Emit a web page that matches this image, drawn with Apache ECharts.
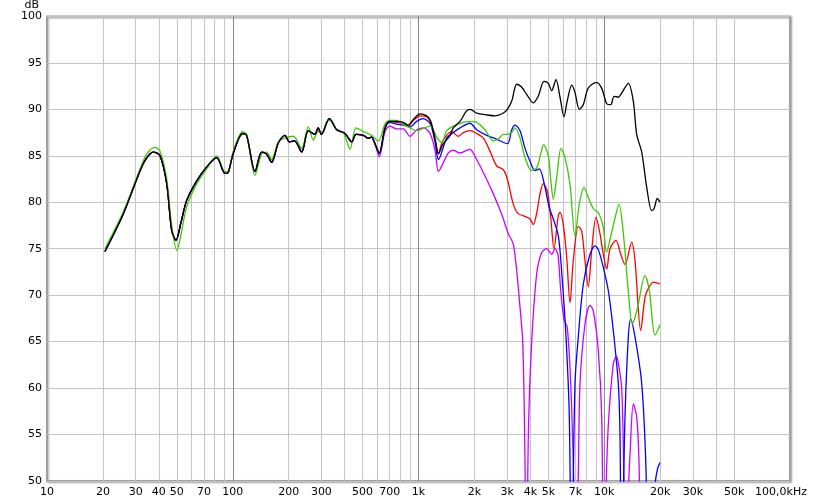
<!DOCTYPE html>
<html><head><meta charset="utf-8">
<script src="https://cdn.jsdelivr.net/npm/echarts@6/dist/echarts.min.js"></script>
<style>html,body{margin:0;padding:0;background:#fff}#c{width:813px;height:502px}</style>
</head><body><div id="c"></div>
<script>
// ---- axis values ----
const xLabelValues = [10,20,30,40,50,70,100,200,300,500,700,1000,2000,3000,4000,5000,7000,10000,20000,30000,50000,100000];
const minorGridValues = [20,30,40,50,60,70,80,90,200,300,400,500,600,700,800,900,2000,3000,4000,5000,6000,7000,8000,9000,20000,30000,40000,50000];
const majorGridValues = [100,1000,10000];
const yMin = 50, yMax = 100, yStep = 5;

// ---- shared low-frequency part (black / blue / red / magenta coincide) ----
const sharedFreq = [20.5,25.8,31.7,34.5,37.4,40.6,44.1,46.9,49.5,52.6,56.5,64,72.4,82,90.9,94.6,100.4,113,118.8,131.8,143,152,162,176,191,202,215,235,255,277,288,300,331,363,402,437,461,505,537,558,583];
const sharedDb   = [74.7,78.8,83.4,84.8,85.4,85.0,82.0,77.0,75.9,77.8,80.2,82.3,83.8,84.8,83.1,83.2,85.2,87.4,87.2,83.3,85.4,85.2,84.3,86.4,87.2,86.5,86.6,85.4,87.7,87.3,88.0,87.3,89.0,87.8,87.4,86.5,87.3,87.2,86.9,87.0,86.3];

// ---- black ----
const blackFreq = [615,660,700,763,828,881,938,1019,1106,1160,1230,1280,1350,1470,1540,1673,1810,1893,2056,2329,2581,2862,3007,3177,3379,3590,3822,4150,4410,4740,5000,5210,5500,5780,6070,6320,6680,6960,7340,7710,8210,9100,9720,10310,10830,11300,11900,12460,13480,14330,14950,15910,16930,18000,18530,19300,19950];
const blackDb   = [85.3,88.0,88.7,88.7,88.6,88.3,88.9,89.5,89.3,88.8,86.8,85.2,86.2,87.1,88.0,88.7,89.8,90.0,89.6,89.4,89.3,89.6,90.0,90.9,92.7,92.4,91.6,90.7,91.4,93.0,92.8,92.0,93.2,91.3,89.2,90.9,92.6,91.8,90.0,90.5,92.3,92.9,92.2,90.6,90.5,91.4,91.3,91.8,92.8,90.9,87.3,85.4,81.6,79.1,79.3,80.4,80.0];

// ---- blue ----
const blueFreq = [615,660,700,763,828,900,978,1060,1160,1230,1280,1418,1540,1673,1893,2056,2329,2630,3007,3177,3310,3520,3745,3985,4238,4470,4797,5061,5318,5657,5901,6225,6483,6663,6958,7249,7715,8380,8917,9290,9883,10515,11186,11901,12155,12383,12934,13476,13882,14643,15908,16782,17097,17853,18760,19350,19950];
const blueDb   = [85.2,87.9,88.6,88.4,88.3,88.1,88.7,89.0,88.4,86.4,84.6,86.9,87.5,88.0,88.5,87.8,87.2,86.8,86.3,87.8,88.3,87.7,85.8,84.4,83.4,83.6,81.6,79.4,78.2,76.4,72.5,65.5,57.0,40,60.5,65.5,71.2,74.4,75.3,74.9,73.0,70.5,66.2,60.5,55,40,56.9,65.5,67.4,65.5,60.5,51.2,40,40,49.5,51.3,52.0];

// ---- red ----
const redFreq = [615,660,700,763,828,881,938,1019,1106,1160,1230,1280,1350,1509,1638,1742,1893,2056,2234,2426,2636,2862,3007,3238,3433,3822,3985,4150,4345,4510,4698,4937,5148,5363,5657,5778,6019,6278,6540,6813,7249,7560,7877,8206,8557,9029,9487,9883,10309,10740,11568,12266,12934,14056,14643,15712,16575,17267,18372,19950];
const redDb   = [85.3,88.0,88.7,88.6,88.5,88.2,88.8,89.3,89.2,88.6,86.6,85.3,86.6,87.6,87.1,87.5,87.7,87.4,86.9,85.5,83.9,83.5,82.5,79.8,78.8,78.4,78.2,77.6,79.0,80.9,82.0,81.2,78.4,75.0,78.6,78.9,77.6,74.1,69.2,73.7,77.4,76.9,73.7,70.9,74.8,78.4,76.6,74.4,72.8,75.0,75.9,74.4,73.3,75.7,73.7,66.2,69.8,70.7,71.4,71.2];

// ---- magenta ----
const magentaFreq = [615,660,700,763,828,900,978,1070,1160,1230,1280,1350,1447,1540,1673,1780,1893,2056,2234,2528,2805,3044,3238,3379,3520,3639,3722,3815,3911,4068,4328,4605,4899,5213,5431,5637,5830,6071,6324,6598,6813,7046,7268,7403,7877,8380,8733,9290,9690,9932,10218,10515,11186,11641,11901,12415,12770,13118,13430,13800,14337,14955,15388,15776];
const magentaDb   = [84.9,87.6,88.2,87.9,87.9,87.1,87.8,88.0,87.3,85.5,83.3,84.1,85.3,85.6,85.3,85.5,85.7,84.6,83.2,80.9,78.7,76.6,75.5,72.6,68.7,65,56,40,56,65,72.3,74.6,75.0,74.4,75.0,74.3,70.5,67.4,66.5,60.5,52,40,52,60.5,66.9,68.9,68.3,64.0,56.9,40,49,56,62.6,63.4,62.7,60.0,50,40,48,53.3,58.3,56.9,52,40];

// ---- green ----
const greenFreq = [20.5,25.8,31.7,34.5,38.1,40.6,44.1,46.9,50.1,52.6,56.5,64,72.4,82,90.9,94.6,100.4,113,118.8,131.8,143,152,162,176,191,212,235,255,271.5,288,307,320.5,338,363,394,428,461,505,558,608,660,700,763,828,900,978,1070,1160,1253,1334,1418,1540,1673,1893,2056,2280,2528,2689,2862,3007,3177,3310,3520,3745,4068,4328,4549,4710,5000,5148,5318,5546,5852,6149,6540,6958,7340,7780,8206,8733,9290,9883,10283,10968,11428,12007,12663,13476,14160,15012,16575,17480,18760,19950];
const greenDb   = [75.0,79.0,83.6,85.2,85.9,85.5,82.5,77.5,74.8,76.5,79.5,82.0,83.6,85.0,83.3,83.3,85.4,87.6,87.3,82.9,85.2,85.4,84.6,86.5,86.9,87.1,85.8,88.1,86.7,87.6,87.5,88.7,88.8,87.8,87.5,85.7,88.0,87.6,87.2,86.6,88.4,88.8,88.8,88.4,88.0,87.7,88.0,88.2,87.0,86.4,87.7,88.2,88.5,88.7,88.6,87.8,86.6,86.8,87.3,87.3,87.5,88.0,86.9,84.8,83.4,83.7,85.2,86.2,85.0,82.5,80.3,82.7,85.8,84.8,81.9,76.4,79.8,81.6,80.5,79.3,78.9,77.3,74.6,76.8,78.3,79.8,76.7,70.4,66.9,68.4,72.1,70.5,65.7,66.8];

// ---- helpers ----
function pairs(fs, ds) { return fs.map((f, i) => [f, ds[i]]); }
const shared = pairs(sharedFreq, sharedDb);

const FONT = 'DejaVu Sans';
function fmtX(v) {
  if (v >= 100000) return '{last|100,0kHz}';
  if (v >= 1000) return (v / 1000) + 'k';
  return String(v);
}
function lineSeries(name, data, color) {
  return {
    name: name, type: 'line', data: data, xAxisIndex: 0, yAxisIndex: 0,
    showSymbol: false, symbol: 'none', smooth: 0.3, clip: true,
    lineStyle: { color: color, width: 1.3 }, itemStyle: { color: color },
    emphasis: { disabled: true }, silent: true
  };
}

const chart = echarts.init(document.getElementById('c'), null, { renderer: 'canvas' });
chart.setOption({
  animation: false,
  backgroundColor: '#ffffff',
  grid: {
    left: 47, right: 23, top: 15, bottom: 21, show: true,
    borderColor: '#a0a0a0', borderWidth: 2, backgroundColor: '#ffffff',
    shadowColor: 'rgba(0,0,0,0.3)', shadowBlur: 2, shadowOffsetX: 1, shadowOffsetY: 1
  },
  xAxis: [
    {
      type: 'log', logBase: 10, min: 10, max: 100000,
      axisLine: { show: false },
      axisTick: { show: false, customValues: minorGridValues },
      splitLine: { show: true, lineStyle: { color: '#c4c4c4', width: 1 } },
      axisLabel: {
        customValues: xLabelValues, interval: 0, formatter: fmtX,
        color: '#000', fontFamily: FONT, fontSize: 11, margin: 6,
        rich: { last: { padding: [0, 18, 0, 0], color: '#000', fontFamily: FONT, fontSize: 11 } }
      }
    },
    {
      type: 'log', logBase: 10, min: 10, max: 100000,
      axisLine: { show: false },
      axisTick: { show: false, customValues: majorGridValues },
      axisLabel: { show: false },
      splitLine: { show: true, lineStyle: { color: '#888888', width: 1 } }
    }
  ],
  yAxis: {
    type: 'value', min: yMin, max: yMax, interval: yStep,
    axisLine: { show: false }, axisTick: { show: false },
    splitLine: { show: true, lineStyle: { color: '#c4c4c4', width: 1 } },
    axisLabel: { color: '#000', fontFamily: FONT, fontSize: 11, margin: 5 },
    name: 'dB', nameLocation: 'end', nameGap: 3,
    nameTextStyle: { color: '#000', fontFamily: FONT, fontSize: 11, align: 'right', verticalAlign: 'bottom', padding: [0, 8, 0, 0] }
  },
  series: [
    lineSeries('magenta', shared.concat(pairs(magentaFreq, magentaDb)), '#cc00ff'),
    lineSeries('red', shared.concat(pairs(redFreq, redDb)), '#ff0000'),
    lineSeries('blue', shared.concat(pairs(blueFreq, blueDb)), '#0000ff'),
    lineSeries('green', pairs(greenFreq, greenDb), '#3cc800'),
    lineSeries('black', shared.concat(pairs(blackFreq, blackDb)), '#000000')
  ]
});
</script>
</body></html>
